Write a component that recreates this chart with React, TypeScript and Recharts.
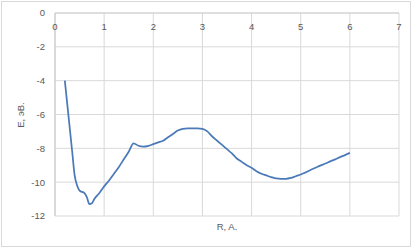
import React from "react";
import { LineChart, Line, XAxis, YAxis, CartesianGrid } from "recharts";

const R = [0.2, 0.3, 0.35, 0.4, 0.45, 0.5, 0.6, 0.65, 0.7, 0.75, 0.8, 0.9, 1.0, 1.1, 1.2, 1.3, 1.4, 1.5, 1.6, 1.7, 1.8, 1.9, 2.0, 2.1, 2.2, 2.3, 2.4, 2.5, 2.6, 2.7, 2.8, 2.9, 3.0, 3.1, 3.2, 3.3, 3.4, 3.5, 3.6, 3.7, 3.8, 3.9, 4.0, 4.1, 4.2, 4.3, 4.4, 4.5, 4.6, 4.7, 4.8, 4.9, 5.0, 5.1, 5.2, 5.3, 5.4, 5.5, 5.6, 5.7, 5.8, 5.9, 6.0];
const E = [-4.0, -6.8, -8.2, -9.6, -10.2, -10.5, -10.65, -10.9, -11.3, -11.25, -11.0, -10.65, -10.25, -9.9, -9.5, -9.1, -8.65, -8.2, -7.7, -7.85, -7.9, -7.85, -7.75, -7.65, -7.55, -7.35, -7.15, -6.95, -6.85, -6.82, -6.82, -6.82, -6.85, -7.0, -7.3, -7.55, -7.8, -8.05, -8.3, -8.6, -8.8, -9.0, -9.15, -9.35, -9.5, -9.6, -9.7, -9.78, -9.8, -9.8, -9.75, -9.65, -9.55, -9.42, -9.28, -9.15, -9.02, -8.9, -8.77, -8.65, -8.52, -8.4, -8.27];
const X_TICKS = [0, 1, 2, 3, 4, 5, 6, 7];
const Y_TICKS = [-12, -10, -8, -6, -4, -2, 0];
const X_TITLE = "R, A.";
const Y_TITLE = "E, эВ.";

const data = R.map((r, i) => ({ r, e: E[i] }));

const FONT = "'Liberation Sans', Arial, sans-serif";

const XTick = (props: any) => {
  const { x, payload } = props;
  return (
    <text x={x} y={30} textAnchor="middle" fontSize={9.5} fontFamily={FONT} fill="#595959">
      {payload.value}
    </text>
  );
};

export default function App() {
  return (
    <div style={{ position: "absolute", left: 0, top: 0, width: 414, height: 247, background: "#fff" }}>
      <div
        style={{
          position: "absolute",
          left: 1,
          top: 1,
          width: 408,
          height: 244,
          border: "1px solid #d9d9d9",
        }}
      />
      <div style={{ position: "absolute", left: 0, top: 0 }}>
        <LineChart width={414} height={247} data={data} margin={{ top: 0, right: 15, bottom: 31, left: 0 }}>
          <CartesianGrid stroke="#d9d9d9" strokeWidth={1} />
          <XAxis
            dataKey="r"
            type="number"
            domain={[0, 7]}
            ticks={X_TICKS}
            orientation="top"
            height={13}
            axisLine={{ stroke: "#d0d0d0" }}
            tickLine={false}
            tick={<XTick />}
            interval={0}
            allowDataOverflow
          />
          <YAxis
            type="number"
            domain={[-12, 0]}
            ticks={Y_TICKS}
            width={55}
            axisLine={{ stroke: "#c8c8c8" }}
            tickLine={false}
            tickSize={0}
            tickMargin={10}
            tick={{ fontSize: 9.5, fontFamily: FONT, fill: "#595959" }}
            interval={0}
          />
          <Line
            type="monotone"
            dataKey="e"
            stroke="#4a7ab8"
            strokeWidth={1.75}
            dot={false}
            isAnimationActive={false}
          />
          <text x={227} y={230} textAnchor="middle" fontSize={9.5} fontFamily={FONT} fill="#595959">
            {X_TITLE}
          </text>
          <text
            x={20}
            y={115}
            textAnchor="middle"
            dominantBaseline="central"
            fontSize={9.5}
            fontFamily={FONT}
            fill="#595959"
            transform="rotate(-90 20 115)"
          >
            {Y_TITLE}
          </text>
        </LineChart>
      </div>
    </div>
  );
}
